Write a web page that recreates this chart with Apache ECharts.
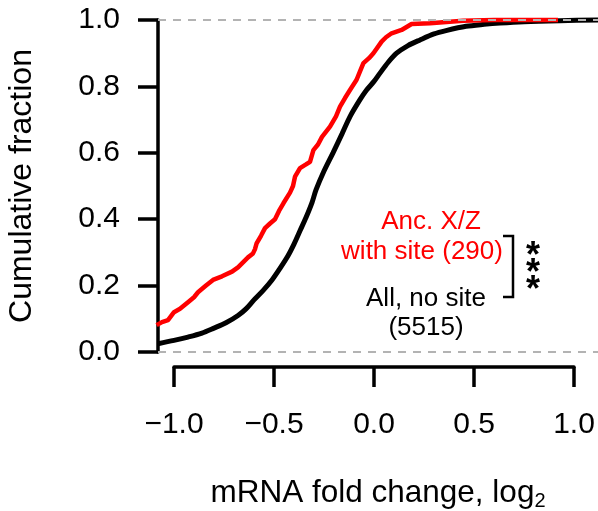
<!DOCTYPE html>
<html>
<head>
<meta charset="utf-8">
<script src="https://cdn.jsdelivr.net/npm/echarts@6/dist/echarts.min.js"></script>
<style>html,body{margin:0;padding:0;background:#fff}#c{width:598px;height:511px}</style>
</head>
<body>
<div id="c"></div>
<script>
// Data
const allNoSiteX = [-1.08,-1.0,-0.93,-0.86,-0.80,-0.74,-0.68,-0.64,-0.60,-0.555,-0.51,-0.47,-0.43,-0.40,-0.37,-0.34,-0.31,-0.29,-0.25,-0.205,-0.16,-0.12,-0.07,-0.037,0.0,0.03,0.07,0.113,0.17,0.23,0.3,0.36,0.46,0.55,0.63,0.75,0.93,1.12];
const allNoSiteY = [0.025,0.035,0.045,0.057,0.072,0.088,0.11,0.13,0.157,0.185,0.217,0.252,0.29,0.325,0.365,0.405,0.45,0.488,0.545,0.60,0.657,0.709,0.76,0.789,0.815,0.84,0.872,0.90,0.923,0.94,0.958,0.968,0.981,0.987,0.991,0.995,0.998,1.0];
const withSiteX = [-1.087,-1.06,-1.03,-1.0,-0.97,-0.93,-0.9,-0.88,-0.84,-0.805,-0.76,-0.71,-0.68,-0.66,-0.63,-0.605,-0.595,-0.587,-0.565,-0.545,-0.52,-0.495,-0.475,-0.453,-0.42,-0.405,-0.395,-0.37,-0.34,-0.32,-0.303,-0.28,-0.26,-0.22,-0.19,-0.17,-0.145,-0.12,-0.087,-0.07,-0.053,-0.025,-0.003,0.038,0.06,0.088,0.138,0.188,0.28,0.445,0.6,0.92];
const withSiteY = [0.081,0.09,0.096,0.12,0.13,0.15,0.165,0.18,0.20,0.217,0.228,0.242,0.255,0.267,0.285,0.297,0.31,0.327,0.35,0.373,0.387,0.40,0.425,0.448,0.48,0.50,0.528,0.554,0.565,0.573,0.608,0.625,0.648,0.679,0.71,0.739,0.765,0.789,0.82,0.845,0.87,0.885,0.90,0.935,0.948,0.96,0.97,0.988,0.99,0.998,1.0,1.0];
const yTicks = [0, 0.2, 0.4, 0.6, 0.8, 1.0];
const xTicks = [-1.0, -0.5, 0.0, 0.5, 1.0];
const labelWithSite = ['Anc. X/Z', 'with site (290)'];
const labelNoSite = ['All, no site', '(5515)'];

const FONT = 'Liberation Sans, Arial, Helvetica, sans-serif';
const chart = echarts.init(document.getElementById('c'), null, {renderer: 'canvas'});
const pairs = (xs, ys) => xs.map((x, i) => [x, ys[i]]);
const fmt = v => v.toFixed(1).replace('-', '\u2212');

chart.setOption({
  animation: false,
  backgroundColor: '#fff',
  textStyle: {fontFamily: FONT},
  grid: [
    {left: 158, right: 0, top: 20, bottom: 159, containLabel: false},
    {left: 174, width: 400, top: 20, height: 347, containLabel: false}
  ],
  xAxis: [
    {gridIndex: 0, type: 'value', min: -1.08, max: 1.12, show: false},
    {gridIndex: 1, type: 'value', min: xTicks[0], max: xTicks[xTicks.length-1], interval: 0.5,
     axisLine: {show: true, onZero: false, lineStyle: {color: '#000', width: 3.5}},
     axisTick: {show: true, length: 20, lineStyle: {color: '#000', width: 3.5}},
     axisLabel: {show: true, margin: 43, fontSize: 30, color: '#000', fontFamily: FONT, formatter: fmt},
     splitLine: {show: false}}
  ],
  yAxis: [
    {gridIndex: 0, type: 'value', min: yTicks[0], max: yTicks[yTicks.length-1], interval: 0.2,
     axisLine: {show: true, onZero: false, lineStyle: {color: '#000', width: 3.5}},
     axisTick: {show: true, length: 20, lineStyle: {color: '#000', width: 3.5}},
     axisLabel: {show: true, margin: 38, fontSize: 30, color: '#000', fontFamily: FONT, formatter: v => v.toFixed(1)},
     splitLine: {show: false}},
    {gridIndex: 1, type: 'value', min: 0, max: 1, show: false}
  ],
  series: [
    {type: 'line', xAxisIndex: 0, yAxisIndex: 0, data: pairs(allNoSiteX, allNoSiteY),
     showSymbol: false, smooth: 0.3, clip: false,
     lineStyle: {color: '#000', width: 5}},
    {type: 'line', xAxisIndex: 0, yAxisIndex: 0, data: pairs(withSiteX, withSiteY),
     showSymbol: false, clip: false,
     lineStyle: {color: '#ff0000', width: 4.5},
     markLine: {silent: true, symbol: ['none', 'none'], label: {show: false},
       lineStyle: {color: '#b3b3b3', type: [8, 7], width: 2},
       data: [{yAxis: 0}, {yAxis: 1}]}},
    {type: 'line', xAxisIndex: 1, yAxisIndex: 1, data: []}
  ],
  graphic: [
    {type: 'text', x: 22, y: 186, rotation: Math.PI / 2,
     style: {text: 'Cumulative fraction', font: '32px ' + FONT, fill: '#000', align: 'center', verticalAlign: 'middle'}},
    {type: 'text', x: 378, y: 493,
     style: {text: '{a|mRNA fold change, log}{b|2}', align: 'center', verticalAlign: 'middle', fill: '#000',
       rich: {a: {fontSize: 31.5, fontFamily: FONT, color: '#000'},
              b: {fontSize: 20, fontFamily: FONT, color: '#000', padding: [16, 0, 0, 0]}}}},
    {type: 'text', x: 431, y: 222, style: {text: labelWithSite[0], font: '26px ' + FONT, fill: '#ff0000', align: 'center', verticalAlign: 'middle'}},
    {type: 'text', x: 422, y: 252, style: {text: labelWithSite[1], font: '26px ' + FONT, fill: '#ff0000', align: 'center', verticalAlign: 'middle'}},
    {type: 'text', x: 426, y: 299, style: {text: labelNoSite[0], font: '26px ' + FONT, fill: '#000', align: 'center', verticalAlign: 'middle'}},
    {type: 'text', x: 426, y: 328, style: {text: labelNoSite[1], font: '26px ' + FONT, fill: '#000', align: 'center', verticalAlign: 'middle'}},
    {type: 'polyline', shape: {points: [[503, 236], [513, 236], [513, 297], [503, 297]]},
     style: {stroke: '#000', lineWidth: 2.5, fill: null}},
    {type: 'text', x: 533, y: 257, style: {text: '*', font: 'bold 36px ' + FONT, fill: '#000', align: 'center', verticalAlign: 'middle'}},
    {type: 'text', x: 533, y: 274, style: {text: '*', font: 'bold 36px ' + FONT, fill: '#000', align: 'center', verticalAlign: 'middle'}},
    {type: 'text', x: 533, y: 291, style: {text: '*', font: 'bold 36px ' + FONT, fill: '#000', align: 'center', verticalAlign: 'middle'}}
  ]
});
</script>
</body>
</html>
